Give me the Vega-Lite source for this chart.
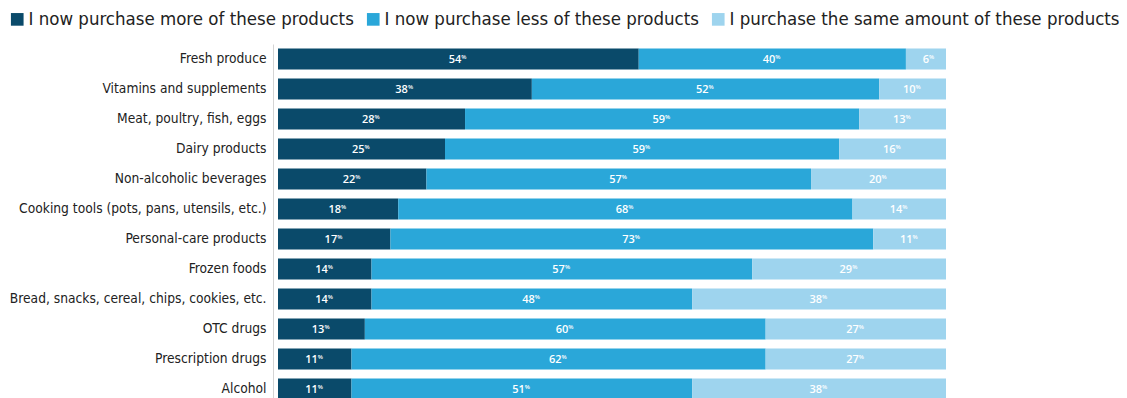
{
  "$schema": "https://vega.github.io/schema/vega-lite/v6.json",
  "autosize": {"type": "none"},
  "padding": {"left": 278, "top": 44, "right": 181, "bottom": 0},
  "width": 668,
  "height": 360,
  "config": {
    "view": {"stroke": null},
    "font": "DejaVu Sans Condensed"
  },
  "data": {"values": [
    {"item": "Fresh produce", "group": "I now purchase more of these products", "order": 1, "value": 54},
    {"item": "Fresh produce", "group": "I now purchase less of these products", "order": 2, "value": 40},
    {"item": "Fresh produce", "group": "I purchase the same amount of these products", "order": 3, "value": 6},
    {"item": "Vitamins and supplements", "group": "I now purchase more of these products", "order": 1, "value": 38},
    {"item": "Vitamins and supplements", "group": "I now purchase less of these products", "order": 2, "value": 52},
    {"item": "Vitamins and supplements", "group": "I purchase the same amount of these products", "order": 3, "value": 10},
    {"item": "Meat, poultry, fish, eggs", "group": "I now purchase more of these products", "order": 1, "value": 28},
    {"item": "Meat, poultry, fish, eggs", "group": "I now purchase less of these products", "order": 2, "value": 59},
    {"item": "Meat, poultry, fish, eggs", "group": "I purchase the same amount of these products", "order": 3, "value": 13},
    {"item": "Dairy products", "group": "I now purchase more of these products", "order": 1, "value": 25},
    {"item": "Dairy products", "group": "I now purchase less of these products", "order": 2, "value": 59},
    {"item": "Dairy products", "group": "I purchase the same amount of these products", "order": 3, "value": 16},
    {"item": "Non-alcoholic beverages", "group": "I now purchase more of these products", "order": 1, "value": 22},
    {"item": "Non-alcoholic beverages", "group": "I now purchase less of these products", "order": 2, "value": 57},
    {"item": "Non-alcoholic beverages", "group": "I purchase the same amount of these products", "order": 3, "value": 20},
    {"item": "Cooking tools (pots, pans, utensils, etc.)", "group": "I now purchase more of these products", "order": 1, "value": 18},
    {"item": "Cooking tools (pots, pans, utensils, etc.)", "group": "I now purchase less of these products", "order": 2, "value": 68},
    {"item": "Cooking tools (pots, pans, utensils, etc.)", "group": "I purchase the same amount of these products", "order": 3, "value": 14},
    {"item": "Personal-care products", "group": "I now purchase more of these products", "order": 1, "value": 17},
    {"item": "Personal-care products", "group": "I now purchase less of these products", "order": 2, "value": 73},
    {"item": "Personal-care products", "group": "I purchase the same amount of these products", "order": 3, "value": 11},
    {"item": "Frozen foods", "group": "I now purchase more of these products", "order": 1, "value": 14},
    {"item": "Frozen foods", "group": "I now purchase less of these products", "order": 2, "value": 57},
    {"item": "Frozen foods", "group": "I purchase the same amount of these products", "order": 3, "value": 29},
    {"item": "Bread, snacks, cereal, chips, cookies, etc.", "group": "I now purchase more of these products", "order": 1, "value": 14},
    {"item": "Bread, snacks, cereal, chips, cookies, etc.", "group": "I now purchase less of these products", "order": 2, "value": 48},
    {"item": "Bread, snacks, cereal, chips, cookies, etc.", "group": "I purchase the same amount of these products", "order": 3, "value": 38},
    {"item": "OTC drugs", "group": "I now purchase more of these products", "order": 1, "value": 13},
    {"item": "OTC drugs", "group": "I now purchase less of these products", "order": 2, "value": 60},
    {"item": "OTC drugs", "group": "I purchase the same amount of these products", "order": 3, "value": 27},
    {"item": "Prescription drugs", "group": "I now purchase more of these products", "order": 1, "value": 11},
    {"item": "Prescription drugs", "group": "I now purchase less of these products", "order": 2, "value": 62},
    {"item": "Prescription drugs", "group": "I purchase the same amount of these products", "order": 3, "value": 27},
    {"item": "Alcohol", "group": "I now purchase more of these products", "order": 1, "value": 11},
    {"item": "Alcohol", "group": "I now purchase less of these products", "order": 2, "value": 51},
    {"item": "Alcohol", "group": "I purchase the same amount of these products", "order": 3, "value": 38}
  ]},
  "encoding": {
    "y": {
      "field": "item",
      "type": "nominal",
      "sort": null,
      "scale": {"paddingInner": 0.3, "paddingOuter": 0.15},
      "axis": {
        "title": null,
        "domain": true,
        "domainColor": "#d4d4d4",
        "domainWidth": 1,
        "offset": 5,
        "ticks": false,
        "tickSize": 0,
        "labelPadding": 7,
        "labelFontSize": 13.7,
        "labelColor": "#222222",
        "labelLimit": 400
      }
    }
  },
  "layer": [
    {
      "transform": [
        {"stack": "value", "groupby": ["item"], "sort": [{"field": "order", "order": "ascending"}], "offset": "normalize", "as": ["x0", "x1"]}
      ],
      "mark": {"type": "bar"},
      "encoding": {
        "x": {"field": "x0", "type": "quantitative", "scale": {"domain": [0, 1], "nice": false}, "axis": null},
        "x2": {"field": "x1"},
        "color": {
          "field": "group",
          "type": "nominal",
          "scale": {
            "domain": ["I now purchase more of these products", "I now purchase less of these products", "I purchase the same amount of these products"],
            "range": ["#0a4a6a", "#2aa7d9", "#9ed4ee"]
          },
          "legend": {
            "title": null,
            "orient": "none",
            "direction": "horizontal",
            "legendX": -270,
            "legendY": -34,
            "symbolType": "square",
            "symbolSize": 160,
            "symbolStrokeWidth": 0,
            "labelFontSize": 18.5,
            "labelColor": "#222222",
            "labelOffset": 2,
            "columnPadding": 10,
            "labelLimit": 600
          }
        }
      }
    },
    {
      "transform": [
        {"fold": ["value", "value"], "as": ["k", "half"]},
        {"window": [{"op": "row_number", "as": "rn"}], "groupby": ["item", "order"]},
        {"stack": "half", "groupby": ["item"], "sort": [{"field": "order", "order": "ascending"}, {"field": "rn", "order": "ascending"}], "offset": "normalize", "as": ["h0", "h1"]},
        {"filter": {"field": "rn", "equal": 1}}
      ],
      "layer": [
        {
          "mark": {"type": "text", "align": "right", "baseline": "middle", "dx": 3, "dy": 1, "color": "white", "fontSize": 11, "fontWeight": 600, "font": "Open Sans"},
          "encoding": {
            "x": {"field": "h1", "type": "quantitative"},
            "text": {"field": "value", "type": "quantitative"}
          }
        },
        {
          "mark": {"type": "text", "align": "left", "baseline": "middle", "dx": 3, "dy": -2, "color": "white", "fontSize": 6, "fontWeight": 600, "font": "Open Sans"},
          "encoding": {
            "x": {"field": "h1", "type": "quantitative"},
            "text": {"value": "%"}
          }
        }
      ]
    }
  ]
}
